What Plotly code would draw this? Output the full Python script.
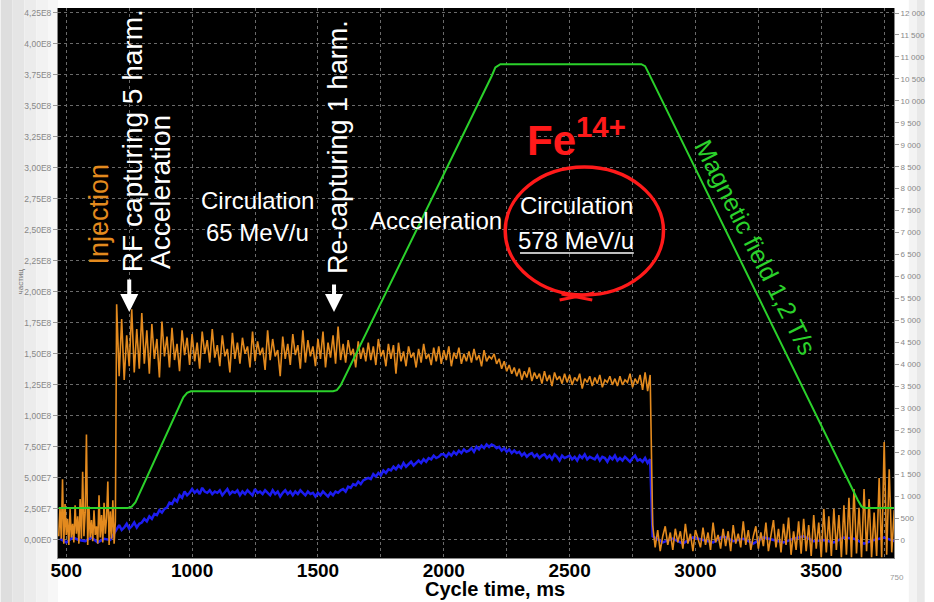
import numpy as np
import plotly.graph_objects as go

# ---------------- data ----------------
# Orange: particle signal (units of 1E7), left axis
orange_pre_t = np.arange(470, 696, 5)
orange_pre = [0.3, 2.6, 0.1, 4.9, -0.3, 2.9, 0.4, 1.7, -0.4, 2.5,
              0.2, 1.3, -0.2, 2.8, 0.5, 1.9, -0.3, 3.3, 0.1, 5.5,
              0.3, 2.2, 8.5, -0.4, 2.7, 0.2, 1.6, -0.1, 2.4, 0.4,
              1.1, -0.3, 3.6, 0.2, 2.0, -0.2, 3.0, 0.5, 1.8, 4.7,
              -0.4, 2.3, 0.1, 3.2, -0.3, 1.5]
orange_beam_t = np.arange(700, 2821, 10)
orange_beam = [
    19.0, 13.2, 17.8, 12.9, 16.5, 14.0, 18.6, 13.5, 17.0, 13.8,
    18.3, 14.2, 16.9, 13.4, 17.4, 14.6, 16.2, 13.1, 17.6, 14.8,
    16.4, 13.9, 17.1, 14.5, 15.8, 13.6, 16.9, 14.9, 16.3, 14.1,
    16.6, 14.4, 15.9, 13.8, 16.8, 15.0, 16.1, 14.3, 17.0, 14.7,
    15.7, 14.0, 16.5, 14.8, 15.4, 13.5, 16.7, 14.6, 15.9, 14.2,
    16.3, 15.0, 15.6, 13.9, 16.8, 14.4, 16.0, 14.9, 15.5, 13.7,
    16.9, 14.5, 16.2, 14.8, 15.3, 13.2, 16.4, 14.6, 15.8, 14.1,
    16.6, 14.9, 15.7, 13.8, 16.9, 14.3, 16.1, 14.8, 15.6, 14.0,
    16.2, 14.6, 16.8, 13.9, 15.9, 14.7, 16.5, 14.2, 17.2, 14.5,
    15.8, 14.3, 16.1, 14.9, 15.4, 13.9, 16.0, 14.6, 15.5, 14.4,
    15.9, 14.5, 15.6, 14.1, 16.2, 14.8, 15.3, 14.0, 15.8, 14.6,
    15.7, 13.4, 15.9, 14.4, 15.2, 14.0, 15.6, 14.7, 15.1, 13.9,
    15.4, 14.3, 15.8, 14.6, 15.0, 14.1, 15.5, 14.4, 15.6, 14.2,
    15.3, 14.5, 15.6, 14.0, 15.1, 14.6, 15.5, 14.2, 15.0, 14.4,
    15.2, 14.3, 15.4, 14.5, 14.9, 14.0, 15.3, 14.4, 14.8, 14.6,
    15.0, 14.2, 14.6, 13.8, 14.4, 13.6, 14.1, 13.4, 13.9, 13.2,
    13.8, 12.9, 13.6, 13.1, 13.9, 12.8, 13.5, 13.0, 13.4, 12.6,
    13.6, 12.8, 13.3, 12.4, 13.5, 12.9, 13.2, 12.6, 13.4, 12.7,
    13.3, 12.5, 13.1, 12.8, 13.4, 12.2, 13.0, 12.7, 13.2, 12.4,
    13.1, 12.6, 13.3, 12.3, 12.9, 12.7, 13.2, 12.5, 13.0, 12.4,
    13.2, 12.5, 12.9, 12.7, 13.4, 12.3, 13.0, 12.6, 13.3, 12.1,
    13.5, 12.0, 13.3]
orange_post_t = np.arange(2830, 3791, 10)
orange_post = [
    1.2, -0.6, 0.8, -0.9, 0.3, 1.1, -0.4, 0.6, -0.8, 0.9,
    -0.2, 0.7, -0.7, 1.3, -0.3, 0.5, -0.9, 0.8, 0.1, -0.6,
    1.0, -0.4, 0.6, -0.8, 1.4, -0.2, 0.4, -0.7, 0.9, -0.5,
    0.7, -0.9, 1.2, -0.3, 0.5, -0.6, 1.5, -0.4, 0.8, -0.8,
    0.3, 1.1, -0.7, 0.6, -0.5, 1.4, -0.9, 0.4, 1.6, -0.6,
    0.9, -1.0, 1.3, -0.4, 1.8, -1.2, 0.7, -0.8, 1.5, -1.1,
    1.7, -0.9, 1.2, -1.3, 2.0, -0.7, 1.4, -1.4, 2.5, -1.0,
    1.9, -1.3, 2.5, -0.8, 2.0, -1.4, 2.8, -1.2, 3.4, -1.4,
    4.1, -1.1, 2.6, -1.4, 4.1, -0.9, 3.3, -1.4, 2.2, -1.3,
    5.0, -1.4, 7.9, -1.2, 5.7, -1.0, 2.4]

# Blue: second signal (units of 1E7), left axis
blue_pre_t = np.arange(475, 676, 25)
blue_pre = [0.1, -0.2, 0.2, 0.0, -0.1, 0.2, -0.2, 0.1, 0.0]
blue_beam_t = np.arange(700, 2821, 10)
blue_beam = [
    0.9, 1.2, 0.8, 1.0, 1.3, 0.9, 1.1, 1.4, 1.0, 1.3,
    1.4, 1.7, 1.5, 1.9, 1.7, 2.1, 2.0, 2.4, 2.2, 2.5,
    2.6, 3.0, 2.9, 3.3, 3.1, 3.6, 3.4, 3.9, 3.6, 3.8,
    4.1, 3.8, 4.0, 3.7, 4.2, 3.9, 3.8, 4.0, 3.7, 3.9,
    3.8, 4.0, 3.6, 3.9, 4.1, 3.7, 3.9, 3.8, 4.0, 3.6,
    3.9, 3.7, 4.0, 3.8, 3.6, 4.1, 3.8, 3.9, 3.7, 4.0,
    3.8, 3.6, 4.0, 3.7, 3.9, 3.5, 3.8, 4.0, 3.7, 3.9,
    3.6, 3.9, 3.7, 4.0, 3.8, 3.6, 3.9, 3.7, 3.8, 3.5,
    3.8, 3.6, 3.9, 3.7, 3.5, 3.8, 3.6, 3.9, 3.8, 4.0,
    4.1, 3.9, 4.3, 4.2, 4.5, 4.4, 4.7, 4.5, 4.8, 4.9,
    5.0, 4.9, 5.3, 5.1, 5.4, 5.2, 5.6, 5.4, 5.7, 5.6,
    5.9, 5.7, 6.0, 5.8, 6.2, 5.9, 6.1, 6.3, 6.0, 6.2,
    6.4, 6.2, 6.5, 6.3, 6.6, 6.5, 6.8, 6.6, 6.7, 6.9,
    6.9, 6.7, 7.0, 6.8, 7.1, 6.9, 7.2, 7.0, 7.3, 7.1,
    7.2, 7.4, 7.1, 7.5, 7.3, 7.6, 7.4, 7.7, 7.5, 7.7,
    7.6, 7.4, 7.5, 7.2, 7.4, 7.1, 7.3, 7.0, 7.2, 7.0,
    7.1, 6.8, 7.0, 6.7, 6.9, 7.0, 6.7, 6.9, 6.6, 6.8,
    6.9, 6.6, 6.8, 6.5, 6.9, 6.7, 6.4, 6.8, 6.6, 6.7,
    6.8, 6.5, 6.7, 6.4, 6.8, 6.6, 6.9, 6.5, 6.7, 6.6,
    6.5, 6.8, 6.4, 6.7, 6.6, 6.3, 6.7, 6.5, 6.8, 6.4,
    6.6, 6.4, 6.7, 6.5, 6.3, 6.6, 6.8, 6.4, 6.5, 6.3,
    6.6, 6.2, 6.5]
blue_post_t = np.arange(2830, 3791, 40)
blue_post = [0.3, -0.2, 0.1, -0.3, 0.2, 0.0, -0.2, 0.3, -0.1, 0.1,
             -0.3, 0.2, 0.0, -0.2, 0.1, 0.3, -0.1, 0.0, -0.2, 0.2,
             0.1, -0.3, 0.0, 0.2, -0.1]

# Green: magnetic field (right axis)
field_t = [470, 745, 760, 775, 965, 980, 995, 1560, 1575, 1590, 2190, 2205,
           2225, 2785, 2800, 2815, 3645, 3660, 3675, 3790]
field_v = [730, 730, 760, 860, 3250, 3350, 3385, 3385, 3410, 3520, 10560, 10760,
           10834, 10834, 10790, 10620, 910, 760, 730, 730]

x_ticks = [500, 1000, 1500, 2000, 2500, 3000, 3500]
left_tick_vals = [i * 0.25e8 for i in range(18)]
left_tick_text = ["0,00E0", "2,50E7", "5,00E7", "7,50E7", "1,00E8", "1,25E8",
                  "1,50E8", "1,75E8", "2,00E8", "2,25E8", "2,50E8", "2,75E8",
                  "3,00E8", "3,25E8", "3,50E8", "3,75E8", "4,00E8", "4,25E8"]
right_tick_vals = list(range(0, 12001, 500))
right_tick_text = ["0", "500"] + [f"{v // 1000} {v % 1000:03d}" for v in right_tick_vals[2:]]

# ---------------- figure ----------------
SCALE = 1e7
orange_t = np.concatenate([orange_pre_t, orange_beam_t, orange_post_t])
orange_v = np.array(orange_pre + orange_beam + orange_post) * SCALE
blue_t = np.concatenate([blue_pre_t, blue_beam_t, blue_post_t])
blue_v = np.array(blue_pre + blue_beam + blue_post) * SCALE

ORANGE = "#e38a1e"
BLUE = "#1c1cf0"
GREEN = "#2bd12b"
FONT = "Liberation Sans, Arial, sans-serif"

fig = go.Figure()
fig.add_trace(go.Scatter(x=blue_t, y=blue_v, mode="lines",
                         line=dict(color=BLUE, width=2.5), yaxis="y"))
fig.add_trace(go.Scatter(x=orange_t, y=orange_v, mode="lines",
                         line=dict(color=ORANGE, width=1.6), yaxis="y"))
fig.add_trace(go.Scatter(x=field_t, y=field_v, mode="lines",
                         line=dict(color=GREEN, width=2), yaxis="y2"))

# plot area in pixels
L, R, T, B = 58, 903, 8, 558
W, H = 934, 602


def P(x, y):
    return (x - L) / (R - L), (B - y) / (B - T)


annots = []


def text(s, x, y, size, color="white", angle=0, bold=False, yanchor="middle"):
    px, py = P(x, y)
    annots.append(dict(text=f"<b>{s}</b>" if bold else s, x=px, y=py,
                       xref="paper", yref="paper", showarrow=False,
                       textangle=angle, xanchor="center", yanchor=yanchor,
                       font=dict(family=FONT, size=size, color=color)))


text("Injection", 99, 214, 27, ORANGE, -90)
text("RF capturing 5 harm.", 133, 141, 28, "white", -90)
text("Acceleration", 161, 192, 28, "white", -90)
text("Circulation", 260, 200, 24)
text("65 MeV/u", 260, 233, 24)
text("Re-capturing 1 harm.", 341, 147, 27, "white", -90)
text("Acceleration", 440, 220, 24)
text("Fe<sup>14+</sup>", 582, 137, 42, "#ff1a1a", 0, True)
text("Circulation", 582, 205, 24)
text("578 MeV/u", 582, 240, 24)
text("Magnetic field 1,2 T/s", 763, 247, 25, GREEN, 63)
text("Cycle time, ms", 500, 602, 20, "black", 0, True, "bottom")
text("750", 906, 577, 8, "#999999")
text("частиц", 20, 281, 8, "#777777", -90)

# arrows
for (x, y0, y1) in [(130, 278, 312), (337, 283, 312)]:
    px, py = P(x, y1)
    annots.append(dict(x=px, y=py, xref="paper", yref="paper", text="",
                       showarrow=True, ax=0, ay=y0 - y1, arrowhead=2,
                       arrowsize=0.9, arrowwidth=4, arrowcolor="white"))

shapes = []
# red hand-drawn circle
ex0, ey0 = P(510, 295)
ex1, ey1 = P(670, 167)
shapes.append(dict(type="circle", xref="paper", yref="paper", x0=ex0, y0=ey0,
                   x1=ex1, y1=ey1, line=dict(color="#ff1a1a", width=3.5)))
for (a, b, c, d) in [(565, 300, 600, 293), (567, 294, 598, 300)]:
    x0, y0 = P(a, b)
    x1, y1 = P(c, d)
    shapes.append(dict(type="line", xref="paper", yref="paper", x0=x0, y0=y0,
                       x1=x1, y1=y1, line=dict(color="#ff1a1a", width=3)))
# underline
ux0, uy = P(525, 253)
ux1, _ = P(640, 253)
shapes.append(dict(type="line", xref="paper", yref="paper", x0=ux0, y0=uy,
                   x1=ux1, y1=uy, line=dict(color="white", width=1.5)))
# light gradient on the left / right edges of the page
for (a, b, col) in [(0, 12, "#dedede"), (12, 24, "#e5e5e5"), (24, 36, "#ececec"),
                    (36, 48, "#f2f2f2"), (48, 58, "#f7f7f7"),
                    (918, 926, "#f3f3f3"), (926, 934, "#e8e8e8")]:
    x0, _ = P(a, 0)
    x1, _ = P(b, 0)
    shapes.append(dict(type="rect", xref="paper", yref="paper", x0=x0, x1=x1,
                       y0=-1, y1=2, line=dict(width=0), fillcolor=col,
                       layer="below"))

grid = dict(showgrid=True, gridcolor="#6a6a6a", griddash="dot", gridwidth=1)

fig.update_layout(
    width=W, height=H,
    margin=dict(l=L, r=W - R, t=T, b=H - B),
    paper_bgcolor="white", plot_bgcolor="black",
    showlegend=False,
    font=dict(family=FONT),
    xaxis=dict(range=[467, 3789], tickvals=x_ticks,
               ticktext=[str(v) for v in x_ticks],
               tickfont=dict(family=FONT, size=19, color="black", weight="bold"),
               ticks="", zeroline=False, ticklabelstandoff=-5,
               minor=dict(dtick=250, tick0=0, **grid),
               showline=True, linecolor="#888888", mirror=False,
               **grid),
    yaxis=dict(range=[-1.456e7, 4.288e8], tickvals=left_tick_vals,
               ticktext=left_tick_text, ticks="outside", ticklen=4,
               tickcolor="#999999",
               tickfont=dict(family=FONT, size=8.5, color="#888888"),
               zeroline=False, showline=True, linecolor="#888888", **grid),
    yaxis2=dict(range=[-411, 12114], overlaying="y", side="right",
                tickvals=right_tick_vals, ticktext=right_tick_text,
                ticks="outside", ticklen=4, tickcolor="#999999",
                tickfont=dict(family=FONT, size=8, color="#888888"),
                showgrid=False, zeroline=False, showline=True,
                linecolor="#888888"),
    annotations=annots,
    shapes=shapes,
)

fig.write_html("out.html")
